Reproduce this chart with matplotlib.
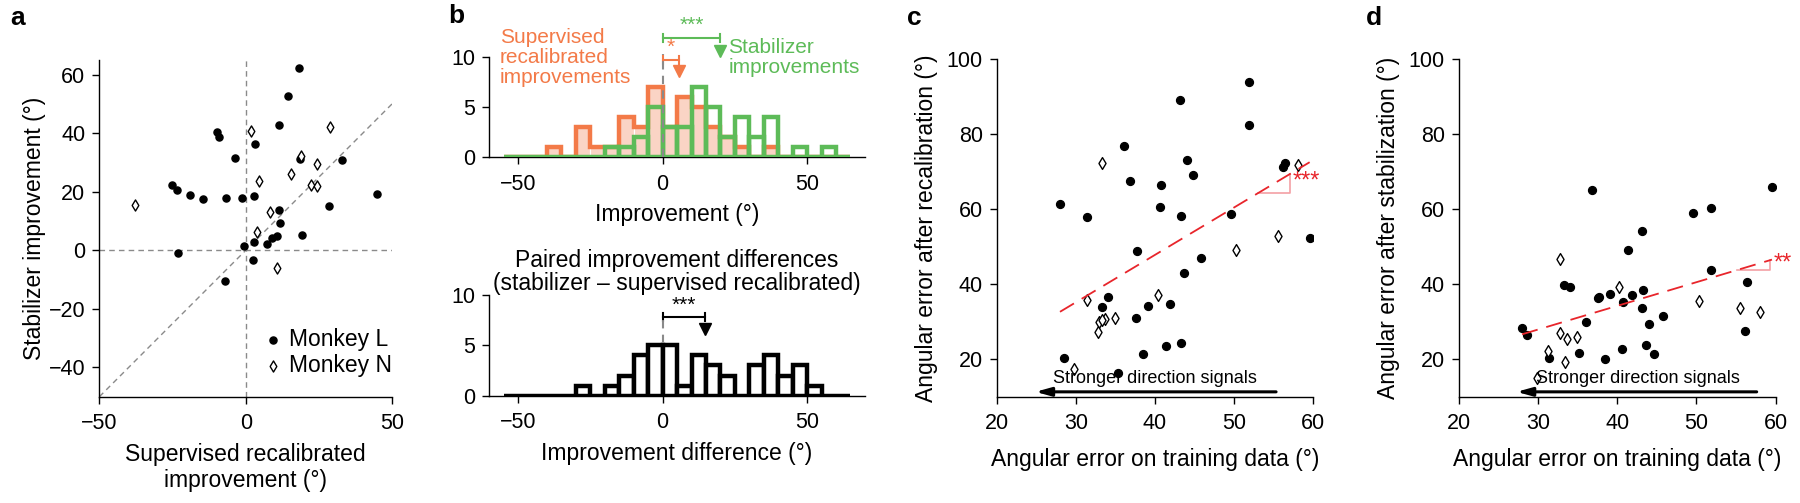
import matplotlib
matplotlib.use("Agg")
import matplotlib.pyplot as plt
import numpy as np

plt.rcParams['font.family'] = ['Liberation Sans', 'DejaVu Sans']
plt.rcParams['axes.linewidth'] = 1.0

# ---- panel a: stabilizer vs supervised improvement ----
a_L_x = [18.2, 14.5, 11.3, -9.9, -9.1, 3.1, -3.8, 18.7, 33.0, -25.2, -23.6, -18.9, -14.6, -6.7, -1.3,
         3.0, 44.9, 28.6, 11.4, 11.7, 19.1, 10.6, 9.0, 7.3, 3.0, -0.5, -23.1, 2.6, -7.1]
a_L_y = [62.1, 52.6, 42.7, 40.4, 38.8, 36.3, 31.4, 31.1, 30.7, 22.2, 20.5, 19.0, 17.4, 17.9, 18.0,
         18.7, 19.3, 15.0, 13.8, 9.3, 5.2, 5.0, 4.3, 2.3, 3.0, 1.4, -0.8, -3.2, -10.4]
a_N_x = [-37.7, 1.8, 28.8, 18.9, 24.5, 15.6, 4.4, 22.4, 24.5, 8.2, 3.8, 10.6]
a_N_y = [15.4, 40.8, 42.1, 32.3, 29.6, 26.2, 23.7, 22.4, 22.1, 13.1, 6.1, -6.1]

# ---- panel b: histograms (5 deg bins from -55 to 65) ----
bin_edges = np.arange(-55, 70, 5)
sup_counts = [0, 0, 0, 1, 0, 3, 1, 1, 4, 3, 7, 3, 6, 5, 3, 2, 1, 0, 1, 0, 0, 0, 0, 0]
stab_counts = [0, 0, 0, 0, 0, 0, 0, 1, 1, 2, 5, 3, 3, 7, 5, 2, 4, 2, 4, 0, 1, 0, 1, 0]
diff_counts = [0, 0, 0, 0, 0, 1, 0, 1, 2, 4, 5, 5, 1, 4, 3, 2, 0, 3, 4, 2, 3, 1, 0, 0]
sup_median = 5.8
stab_median = 20.0
diff_median = 14.6

# ---- panel c/d: angular errors ----
c_L_x = [51.83, 43.2, 51.83, 36.04, 44.08, 56.4, 56.2, 44.76, 36.84, 40.76, 28.0, 40.67, 31.45, 43.24,
         49.56, 59.54, 37.77, 45.85, 43.66, 34.02, 33.35, 39.12, 41.85, 37.64, 28.55, 38.44, 41.39,
         43.33, 35.28]
c_L_y = [93.8, 89.2, 82.4, 76.8, 73.2, 72.3, 71.3, 69.1, 67.4, 66.5, 61.4, 60.6, 58.0, 58.1,
         58.8, 52.2, 48.9, 47.0, 42.9, 36.5, 33.8, 34.2, 34.7, 31.0, 20.4, 21.5, 23.4, 24.4, 16.4]
c_N_x = [33.35, 58.1, 55.58, 50.3, 31.37, 40.34, 32.88, 33.68, 34.99, 32.8, 29.81, 33.3]
c_N_y = [72.2, 71.8, 52.8, 49.2, 35.7, 37.1, 30.0, 30.8, 30.9, 27.2, 17.4, 30.4]

d_L_x = [36.86, 59.53, 49.52, 51.79, 43.17, 41.4, 51.79, 56.33, 33.33, 34.0, 43.3, 39.09, 41.83,
         37.75, 37.62, 40.69, 43.17, 36.02, 45.78, 44.0, 27.99, 28.58, 56.12, 31.44, 35.22, 40.6,
         43.63, 44.68, 38.42]
d_L_y = [65.1, 65.9, 58.9, 60.4, 54.1, 49.1, 43.8, 40.5, 39.9, 39.3, 38.4, 37.5, 37.1,
         36.6, 36.2, 35.3, 33.7, 29.9, 31.6, 29.3, 28.3, 26.4, 27.5, 20.4, 21.7, 22.8,
         23.9, 21.3, 20.0]
d_N_x = [32.78, 40.27, 50.28, 55.53, 58.06, 32.78, 33.7, 34.97, 31.31, 33.41, 29.84]
d_N_y = [46.6, 39.3, 35.6, 33.6, 32.6, 27.1, 25.5, 26.0, 22.3, 19.3, 15.0]

ORANGE = '#F37A48'
PINK = '#FAD4C5'
GREEN = '#5DBB58'
RED = '#E8252B'
LIGHTRED = '#F4A0A4'
GRAY = '#8a8a8a'

fig = plt.figure(figsize=(18, 5.03), dpi=100)

def clean(ax):
    ax.spines['top'].set_visible(False)
    ax.spines['right'].set_visible(False)
    ax.tick_params(direction='out', length=5, width=1, labelsize=15.5, pad=5)
    ax.tick_params(axis='x', pad=7)

# ---------------- a ----------------
axa = fig.add_axes([0.0552, 0.2113, 0.1626, 0.6694])
clean(axa)
axa.plot([-50, 50], [-50, 50], ls=(0, (4, 3)), color=GRAY, lw=1, zorder=1)
axa.plot([0, 0], [-50, 65], ls=(0, (4, 3)), color=GRAY, lw=1, zorder=1)
axa.plot([-50, 50], [0, 0], ls=(0, (4, 3)), color=GRAY, lw=1, zorder=1)
axa.scatter(a_L_x, a_L_y, s=26, color='black', zorder=3, label='Monkey L')
axa.scatter(a_N_x, a_N_y, s=32, marker='d', facecolor='white', edgecolor='black', linewidth=1,
            zorder=3, label='Monkey N')
axa.set_xlim(-50, 50)
axa.set_ylim(-50, 65)
axa.set_xticks([-50, 0, 50])
axa.set_yticks([-40, -20, 0, 20, 40, 60])
axa.set_xlabel('Supervised recalibrated\nimprovement (°)', fontsize=16.5, labelpad=6)
axa.set_ylabel('Stabilizer improvement (°)', fontsize=16.5, labelpad=2)
axa.legend(loc='lower right', frameon=False, fontsize=16.5, handletextpad=0.1,
           borderaxespad=0.0, labelspacing=0.15, handlelength=1.2, markerscale=1.0,
           bbox_to_anchor=(1.03, 0.03))

# ---------------- b top ----------------
centers = bin_edges[:-1] + 2.5
axb = fig.add_axes([0.2718, 0.6873, 0.2087, 0.1988])
clean(axb)
axb.bar(centers, sup_counts, width=5, color=PINK, edgecolor='white', linewidth=0.8, zorder=1)
axb.stairs(sup_counts, bin_edges, color=ORANGE, linewidth=3.2, zorder=2)
axb.bar(centers, stab_counts, width=5, facecolor='none', edgecolor=GREEN, linewidth=3.2, zorder=3)
axb.plot([0, 0], [0, 10.3], ls=(0, (4, 3)), color=GRAY, lw=1.5, zorder=4, clip_on=False)
# medians
axb.plot([0, stab_median], [11.9, 11.9], color=GREEN, lw=1.5, clip_on=False)
axb.plot([0, 0], [11.5, 12.3], color=GREEN, lw=1.5, clip_on=False)
axb.plot([stab_median, stab_median], [11.5, 12.3], color=GREEN, lw=1.5, clip_on=False)
axb.plot(stab_median, 10.65, marker='v', ms=9, color=GREEN, clip_on=False)
axb.text(stab_median / 2, 12.2, '***', color=GREEN, fontsize=15, ha='center', va='bottom')
axb.plot([0, sup_median], [9.7, 9.7], color=ORANGE, lw=1.5, clip_on=False)
axb.plot([0, 0], [9.3, 10.1], color=ORANGE, lw=1.5, clip_on=False)
axb.plot([sup_median, sup_median], [9.3, 10.1], color=ORANGE, lw=1.5, clip_on=False)
axb.plot(sup_median, 8.6, marker='v', ms=9, color=ORANGE, clip_on=False)
axb.text(sup_median / 2, 10.0, '*', color=ORANGE, fontsize=15, ha='center', va='bottom')
axb.text(-56.3, 10.0, 'Supervised\nrecalibrated\nimprovements', color=ORANGE, fontsize=15,
         ha='left', va='center', linespacing=1.05)
axb.text(22.7, 10.0, 'Stabilizer\nimprovements', color=GREEN, fontsize=15,
         ha='left', va='center', linespacing=1.05)
axb.set_xlim(-60, 70)
axb.set_ylim(0, 10)
axb.set_xticks([-50, 0, 50])
axb.set_yticks([0, 5, 10])
axb.set_xlabel('Improvement (°)', fontsize=16.5, labelpad=6)

# ---------------- b bottom ----------------
axb2 = fig.add_axes([0.2718, 0.2133, 0.2087, 0.2002])
clean(axb2)
axb2.bar(centers, diff_counts, width=5, facecolor='white', edgecolor='black', linewidth=3.2, zorder=2)
axb2.plot([0, 0], [5.2, 7.6], ls=(0, (4, 3)), color=GRAY, lw=1.5, zorder=4)
axb2.plot([0, diff_median], [7.8, 7.8], color='black', lw=1.5, clip_on=False)
axb2.plot([0, 0], [7.4, 8.2], color='black', lw=1.5, clip_on=False)
axb2.plot([diff_median, diff_median], [7.4, 8.2], color='black', lw=1.5, clip_on=False)
axb2.plot(diff_median, 6.6, marker='v', ms=9, color='black', clip_on=False)
axb2.text(diff_median / 2, 8.0, '***', color='black', fontsize=15, ha='center', va='bottom')
axb2.set_xlim(-60, 70)
axb2.set_ylim(0, 10)
axb2.set_xticks([-50, 0, 50])
axb2.set_yticks([0, 5, 10])
axb2.set_xlabel('Improvement difference (°)', fontsize=16.5, labelpad=6)
axb2.set_title('Paired improvement differences\n(stabilizer \u2013 supervised recalibrated)',
               fontsize=16.5, pad=1, linespacing=1.0)


# ---------------- c, d ----------------
def error_panel(rect, Lx, Ly, Nx, Ny, ylabel, stars, tri, arrow_x, text_x):
    ax = fig.add_axes(rect)
    clean(ax)
    ax.scatter(Lx, Ly, s=32, color='black', zorder=3)
    ax.scatter(Nx, Ny, s=36, marker='d', facecolor='white', edgecolor='black', linewidth=1, zorder=3)
    allx = np.array(Lx + Nx)
    ally = np.array(Ly + Ny)
    slope, icpt = np.polyfit(allx, ally, 1)
    xs = np.array([allx.min(), allx.max()])
    ax.plot(xs, icpt + slope * xs, color=RED, lw=1.3, ls=(0, (9, 5)), zorder=4)
    t0, t1 = tri
    ax.plot([t0, t1, t1], [icpt + slope * t0, icpt + slope * t0, icpt + slope * t1],
            color=LIGHTRED, lw=1.2, zorder=2)
    ax.text(t1 + 0.4, icpt + slope * (t0 + t1) / 2 + 0.5, stars, color=RED, fontsize=17,
            ha='left', va='center', clip_on=False)
    ax.annotate('', xy=(arrow_x[1], 11.3), xytext=(arrow_x[0], 11.3),
                arrowprops=dict(arrowstyle='-|>,head_length=0.9,head_width=0.25', color='black',
                                lw=2.2, shrinkA=0, shrinkB=0))
    ax.text(text_x, 12.6, 'Stronger direction signals', fontsize=13, ha='center', va='bottom')
    ax.set_xlim(20, 60)
    ax.set_ylim(10, 100)
    ax.set_xticks([20, 30, 40, 50, 60])
    ax.set_yticks([20, 40, 60, 80, 100])
    ax.set_xlabel('Angular error on training data (°)', fontsize=16.5, labelpad=10)
    ax.set_ylabel(ylabel, fontsize=16.5, labelpad=6)
    return ax

error_panel([0.5537, 0.2113, 0.1759, 0.6714], c_L_x, c_L_y, c_N_x, c_N_y,
            'Angular error after recalibration (°)', '***', (53.05, 57.05), (55.3, 24.9), 40.0)
error_panel([0.8104, 0.2113, 0.1761, 0.6714], d_L_x, d_L_y, d_N_x, d_N_y,
            'Angular error after stabilization (°)', '**', (55.1, 59.3), (57.6, 27.3), 42.6)

for lab, x, y in [('a', 10, 18), ('b', 448, 16), ('c', 907, 18), ('d', 1366, 18)]:
    fig.text(x / 1800, 1 - y / 503, lab, fontsize=19, fontweight='bold', ha='left', va='center')

fig.savefig('out.png', dpi=100)
